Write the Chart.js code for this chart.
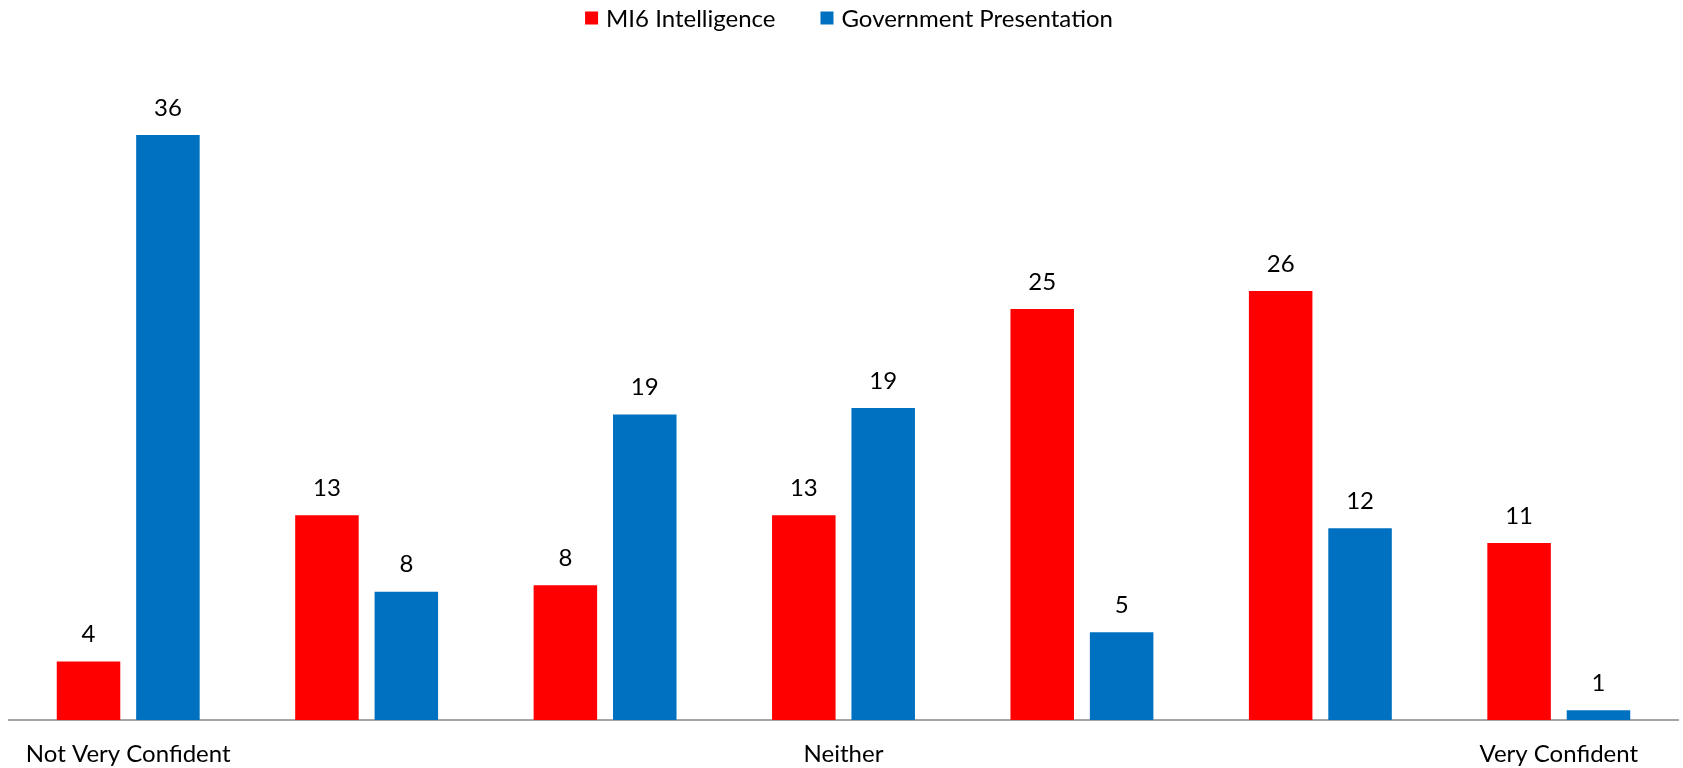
<!DOCTYPE html>
<html>
<head>
<meta charset="utf-8">
<script src="https://cdn.jsdelivr.net/npm/chart.js@4"></script>
<style>
  html, body { margin: 0; padding: 0; background: #fff; }
  canvas { display: block; }
</style>
</head>
<body>
<canvas id="confidenceChart" width="1683" height="768"></canvas>
<script>
    // Categories along the confidence scale (only the ends and middle are labelled)
    const categories = ['Not Very Confident', '', '', 'Neither', '', '', 'Very Confident'];

    // Values; labels show them rounded
    const mi6Values = [3.6, 12.6, 8.3, 12.6, 25.3, 26.4, 10.9];
    const govValues = [36.0, 7.9, 18.8, 19.2, 5.4, 11.8, 0.6];

    const seriesNames = ['MI6 Intelligence', 'Government Presentation'];
    const seriesColors = ['#FF0000', '#0070C0'];

    const FONT = 'Lato, "Open Sans", sans-serif';

    // Draw the rounded value above each bar
    const valueLabels = {
        id: 'valueLabels',
        afterDatasetsDraw(chart) {
            const ctx = chart.ctx;
            ctx.save();
            ctx.font = '24px ' + FONT;
            ctx.fillStyle = '#000';
            ctx.textAlign = 'center';
            ctx.textBaseline = 'middle';
            chart.data.datasets.forEach((dataset, i) => {
                chart.getDatasetMeta(i).data.forEach((bar, j) => {
                    ctx.fillText(Math.round(dataset.data[j]).toString(), bar.x, bar.y - 27);
                });
            });
            ctx.restore();
        }
    };

    // Simple legend across the top, spaced like the original
    const topLegend = {
        id: 'topLegend',
        afterDraw(chart) {
            const ctx = chart.ctx;
            const box = 13, textGap = 8, itemGap = 45, centerX = 849, centerY = 18;
            ctx.save();
            ctx.font = '24px ' + FONT;
            ctx.textBaseline = 'middle';
            ctx.textAlign = 'left';
            const widths = chart.data.datasets.map(ds => box + textGap + ctx.measureText(ds.label).width);
            const total = widths.reduce((a, b) => a + b, 0) + itemGap * (widths.length - 1);
            let x = centerX - total / 2;
            chart.data.datasets.forEach((ds, i) => {
                ctx.fillStyle = ds.backgroundColor;
                ctx.fillRect(x, centerY - box / 2, box, box);
                ctx.fillStyle = '#000';
                ctx.fillText(ds.label, x + box + textGap, centerY + 1);
                x += widths[i] + itemGap;
            });
            ctx.restore();
        }
    };

    new Chart(document.getElementById('confidenceChart').getContext('2d'), {
        type: 'bar',
        data: {
            labels: categories,
            datasets: [
                {
                    label: seriesNames[0],
                    data: mi6Values,
                    backgroundColor: seriesColors[0],
                    categoryPercentage: 0.666,
                    barPercentage: 0.8
                },
                {
                    label: seriesNames[1],
                    data: govValues,
                    backgroundColor: seriesColors[1],
                    categoryPercentage: 0.666,
                    barPercentage: 0.8
                }
            ]
        },
        options: {
            responsive: false,
            animation: false,
            layout: { padding: { left: 9, right: 5, top: 70, bottom: 0 } },
            plugins: {
                legend: { display: false },
                tooltip: { enabled: false }
            },
            scales: {
                x: {
                    grid: { display: false, drawTicks: false },
                    border: { display: true, color: '#A6A6A6', width: 2 },
                    ticks: {
                        color: '#000',
                        font: { family: FONT, size: 24 },
                        autoSkip: false,
                        maxRotation: 0,
                        padding: 20
                    },
                    afterFit: (scale) => { scale.height = 48; }
                },
                y: {
                    display: false,
                    min: 0,
                    max: 40
                }
            }
        },
        plugins: [valueLabels, topLegend]
    });
</script>
</body>
</html>
